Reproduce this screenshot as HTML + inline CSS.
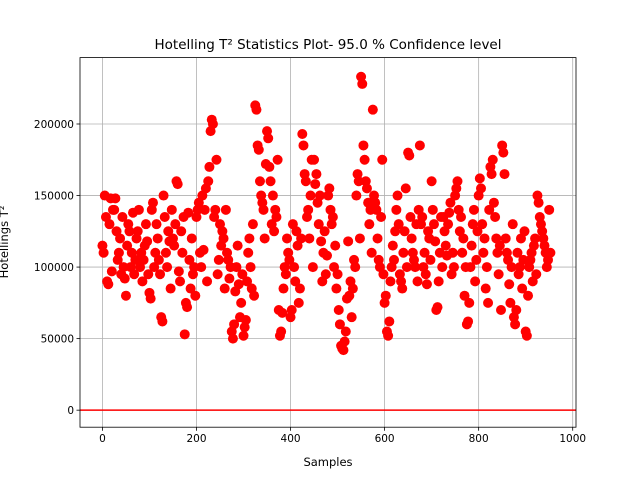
<!DOCTYPE html>
<html><head><meta charset="utf-8"><style>
body{margin:0;background:#fff}
svg{display:block;font-family:"DejaVu Sans","Liberation Sans",sans-serif}
</style></head><body>
<svg id="chart" width="640" height="480" viewBox="0 0 640 480" xmlns="http://www.w3.org/2000/svg">
<rect width="640" height="480" fill="#fff"/>
<g id="grid"></g>
<g id="points"></g>
<g id="limit"></g>
<rect x="80" y="57.6" width="496" height="369.6" fill="none" stroke="#000" stroke-width="0.8"/>
<g id="ticks"></g>
<text x="328" y="49" text-anchor="middle" font-size="13.5">Hotelling T² Statistics Plot- 95.0 % Confidence level</text>
<text x="328" y="466" text-anchor="middle" font-size="11.5">Samples</text>
<text transform="translate(8,242) rotate(-90)" text-anchor="middle" font-size="11.5">Hotellings T²</text>
</svg>
<script>
const xTicks=[0,200,400,600,800,1000];
const yTicks=[0,50000,100000,150000,200000];
const yTickLabels=["0","50000","100000","150000","200000"];
const limitValue=0;
const segStarts=[0,25,50,75,100,125,150,175,200,225,250,275,300,325,350,375,400,425,450,475,500,525,550,575,600,625,650,675,700,725,750,775,800,825,850,875,900,925,950];
const segValues=[
[115000,110000,150000,135000,90000,88000,130000,148000,97000,140000],
[140000,148000,125000,105000,110000,120000,95000,135000,100000,92000],
[80000,115000,130000,125000,100000,110000,138000,95000,105000,120000],
[125000,140000,100000,110000,90000,105000,115000,130000,118000,95000],
[82000,78000,140000,145000,100000,110000,130000,120000,105000,95000],
[65000,62000,150000,135000,110000,100000,125000,118000,85000,140000],
[120000,115000,130000,160000,158000,97000,90000,125000,110000,135000],
[53000,75000,72000,138000,105000,85000,120000,95000,100000,80000],
[135000,140000,145000,110000,100000,150000,112000,140000,155000,90000],
[160000,170000,195000,203000,200000,135000,140000,175000,95000,105000],
[130000,115000,125000,120000,85000,140000,110000,105000,92000,100000],
[55000,50000,60000,83000,100000,115000,88000,65000,75000,95000],
[52000,58000,63000,90000,110000,120000,100000,85000,130000,80000],
[213000,210000,185000,182000,160000,150000,145000,140000,120000,172000],
[195000,190000,170000,160000,130000,150000,125000,140000,135000,175000],
[70000,52000,55000,68000,85000,100000,95000,120000,110000,105000],
[65000,70000,130000,100000,90000,125000,115000,75000,85000,120000],
[193000,185000,165000,160000,135000,140000,120000,150000,175000,100000],
[175000,158000,165000,145000,130000,150000,118000,90000,110000,125000],
[95000,108000,150000,155000,140000,130000,135000,100000,115000,85000],
[95000,70000,60000,45000,43000,42000,48000,55000,78000,118000],
[80000,90000,65000,85000,105000,100000,150000,165000,160000,120000],
[233000,228000,185000,175000,160000,155000,145000,130000,140000,110000],
[210000,150000,145000,140000,120000,105000,100000,135000,175000,95000],
[75000,80000,55000,52000,62000,90000,100000,115000,105000,125000],
[140000,150000,130000,95000,90000,85000,110000,125000,155000,100000],
[180000,178000,135000,120000,110000,105000,100000,130000,90000,140000],
[185000,130000,135000,100000,110000,95000,88000,125000,120000,105000],
[160000,140000,130000,118000,70000,72000,90000,110000,135000,100000],
[135000,125000,115000,108000,130000,138000,145000,95000,110000,100000],
[150000,155000,160000,140000,125000,135000,110000,120000,80000,100000],
[60000,62000,75000,100000,115000,130000,140000,90000,105000,125000],
[150000,162000,155000,130000,110000,120000,85000,100000,75000,140000],
[170000,165000,175000,145000,135000,120000,110000,95000,115000,70000],
[185000,180000,165000,120000,110000,105000,88000,75000,100000,130000],
[65000,60000,70000,110000,95000,100000,120000,85000,105000,125000],
[55000,52000,80000,100000,105000,110000,90000,115000,120000,95000],
[150000,145000,135000,130000,125000,120000,115000,110000,100000,105000],
[140000,110000]
];
const NS="http://www.w3.org/2000/svg";
const L=80,R=576,T=57.6,B=427.2,xMin=-47.7,xMax=1007,yMin=-11900,yMax=246400;
function sx(v){return L+(v-xMin)/(xMax-xMin)*(R-L);}
function sy(v){return B-(v-yMin)/(yMax-yMin)*(B-T);}
function mk(tag,attrs,parent){const e=document.createElementNS(NS,tag);for(const k in attrs)e.setAttribute(k,attrs[k]);parent.appendChild(e);return e;}
const grid=document.getElementById('grid'),ticks=document.getElementById('ticks'),pts=document.getElementById('points');
xTicks.forEach(t=>{const x=sx(t);
 const g=mk('line',{x1:x,x2:x,y1:T,y2:B,stroke:'#b0b0b0','stroke-width':0.8},grid);
 
 
 const tk=mk('line',{x1:x,x2:x,y1:B,y2:B+3.5,stroke:'#000','stroke-width':0.8},ticks);
 
 
 const lb=mk('text',{x:x,y:B+15,'text-anchor':'middle','font-size':10.5},ticks);lb.textContent=String(t);
 
 
});
yTicks.forEach((t,i)=>{const y=sy(t);
 const g=mk('line',{x1:L,x2:R,y1:y,y2:y,stroke:'#b0b0b0','stroke-width':0.8},grid);
 
 
 const tk=mk('line',{x1:L-3.5,x2:L,y1:y,y2:y,stroke:'#000','stroke-width':0.8},ticks);
 
 
 const lb=mk('text',{x:L-6,y:y+4,'text-anchor':'end','font-size':10.5},ticks);lb.textContent=yTickLabels[i];
 
 
});
segStarts.forEach((s,si)=>{segValues[si].forEach((v,j)=>{
 const c=mk('circle',{cx:sx(s+j*2.5),cy:sy(v),r:5,fill:'#ff0000'},pts);
 
 
});});
const ln=mk('line',{x1:L,x2:R,y1:sy(limitValue),y2:sy(limitValue),stroke:'#ff0000','stroke-width':1.5},document.getElementById('limit'));


</script>
</body></html>
